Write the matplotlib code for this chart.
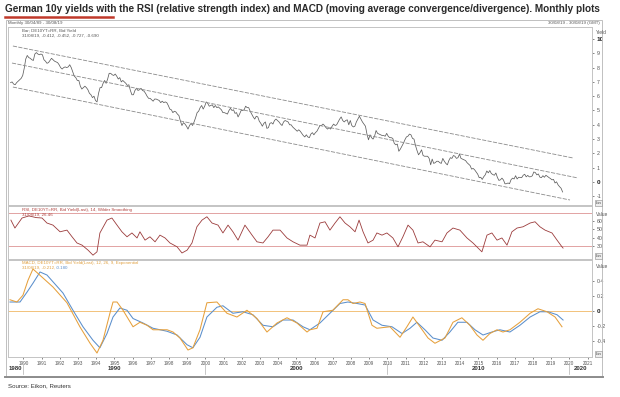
import matplotlib
matplotlib.use('Agg')
import matplotlib.pyplot as plt
import matplotlib.transforms as mtransforms
from matplotlib.lines import Line2D
from matplotlib.patches import Rectangle

plt.rcParams['font.family'] = ['Liberation Sans', 'DejaVu Sans']

# ---------------- data ----------------
title = ("German 10y yields with the RSI (relative strength index) and MACD "
         "(moving average convergence/divergence). Monthly plots")
source = "Source: Eikon, Reuters"

# Monthly German 10y yield, Apr 1989 .. Aug 2019
yield_first_year, yield_first_month = 1989, 4
yields = [
    6.95, 7.00, 6.85, 6.80, 6.95, 7.05, 7.15, 7.25, 7.45,
    7.95, 8.60, 8.85, 8.70, 8.65, 8.55, 8.50, 8.95, 9.05, 8.95, 8.90, 8.95,
    8.90, 8.55, 8.45, 8.30, 8.35, 8.50, 8.65, 8.55, 8.45, 8.40, 8.35, 8.20,
    8.00, 7.90, 8.00, 8.05, 8.00, 8.05, 8.20, 8.00, 7.70, 7.40, 7.30, 7.10,
    7.10, 6.70, 6.50, 6.60, 6.70, 6.60, 6.45, 6.20, 6.10, 5.90, 6.00, 5.70,
    5.60, 6.20, 6.60, 6.60, 6.90, 7.10, 6.90, 7.20, 7.60, 7.60, 7.50, 7.45,
    7.55, 7.40, 7.20, 7.30, 7.00, 7.10, 7.00, 6.90, 6.75, 6.80, 6.40, 6.10,
    6.10, 6.40, 6.55, 6.40, 6.45, 6.55, 6.40, 6.35, 6.20, 6.00, 5.85, 5.85,
    5.75, 5.65, 5.80, 5.80, 5.75, 5.70, 5.55, 5.65, 5.55, 5.60, 5.55, 5.35,
    5.10, 5.05, 4.85, 4.95, 4.90, 4.75, 4.65, 4.25, 3.95, 4.15, 4.05, 3.90,
    3.70, 3.95, 4.10, 3.95, 4.20, 4.50, 4.85, 4.95, 5.20, 5.35, 5.10, 5.30,
    5.60, 5.50, 5.30, 5.35, 5.40, 5.20, 5.35, 5.20, 5.25, 5.15, 5.05, 4.85,
    4.85, 4.80, 4.75, 5.00, 5.15, 5.00, 5.05, 4.80, 4.85, 4.55, 4.75, 5.00,
    5.00, 5.05, 5.30, 5.20, 5.20, 4.95, 4.75, 4.55, 4.40, 4.60, 4.55, 4.25,
    4.10, 3.90, 4.10, 4.20, 3.75, 3.80, 4.10, 4.15, 4.05, 4.30, 4.40, 4.30,
    4.20, 4.05, 3.95, 4.20, 4.30, 4.25, 4.20, 4.00, 4.00, 3.85, 3.75, 3.65,
    3.55, 3.65, 3.55, 3.40, 3.25, 3.15, 3.30, 3.15, 3.10, 3.35, 3.45, 3.30,
    3.45, 3.55, 3.75, 3.95, 3.95, 4.05, 3.95, 3.80, 3.70, 3.80, 3.70, 3.90,
    4.05, 3.95, 4.00, 4.20, 4.40, 4.55, 4.30, 4.20, 4.30, 4.35, 4.00, 4.30,
    3.95, 3.85, 3.90, 4.20, 4.40, 4.60, 4.40, 4.20, 4.05, 3.90, 3.35, 2.95,
    3.30, 3.10, 3.00, 3.20, 3.60, 3.40, 3.35, 3.30, 3.25, 3.25, 3.20, 3.40,
    3.20, 3.10, 3.10, 3.05, 2.70, 2.60, 2.65, 2.15, 2.30, 2.50, 2.70, 2.95,
    3.15, 3.20, 3.35, 3.30, 3.05, 3.00, 2.55, 2.20, 1.90, 2.05, 2.25, 1.85,
    1.80, 1.80, 1.80, 1.65, 1.20, 1.60, 1.30, 1.35, 1.45, 1.45, 1.35, 1.30,
    1.65, 1.45, 1.30, 1.20, 1.50, 1.70, 1.65, 1.85, 1.80, 1.65, 1.70, 1.95,
    1.65, 1.60, 1.55, 1.50, 1.35, 1.25, 1.15, 0.90, 0.95, 0.85, 0.70, 0.55,
    0.30, 0.33, 0.18, 0.37, 0.50, 0.77, 0.64, 0.80, 0.59, 0.52, 0.47, 0.63,
    0.32, 0.11, 0.15, 0.27, 0.14, -0.13, -0.12, -0.07, -0.12, 0.16, 0.27, 0.21,
    0.44, 0.21, 0.33, 0.32, 0.30, 0.47, 0.54, 0.36, 0.46, 0.36, 0.37, 0.43,
    0.70, 0.66, 0.50, 0.56, 0.34, 0.30, 0.44, 0.33, 0.47, 0.39, 0.31, 0.24,
    0.15, 0.18, -0.07, 0.01, -0.20, -0.33, -0.44, -0.70,
]

# trend channel (start / end dates and values)
channel_start_dates = [1989.42, 1989.37, 1989.42]
channel_start_vals = [9.51, 8.32, 6.64]
channel_end_dates = [2020.19, 2020.47, 2020.03]
channel_end_vals = [1.68, 0.28, -1.26]

rsi_dates = [1989.31, 1989.53, 1989.92, 1990.30, 1990.70, 1991.02, 1991.29, 1991.62,
             1992.01, 1992.39, 1992.67, 1992.94, 1993.22, 1993.55, 1993.82, 1994.04,
             1994.20, 1994.59, 1994.86, 1995.14, 1995.41, 1995.69, 1995.96, 1996.24,
             1996.40, 1996.68, 1996.95, 1997.23, 1997.50, 1997.78, 1998.05, 1998.44,
             1998.71, 1998.99, 1999.26, 1999.53, 1999.81, 2000.08, 2000.36, 2000.69,
             2000.96, 2001.24, 2001.51, 2001.79, 2002.17, 2002.56, 2002.83, 2003.16,
             2003.44, 2003.71, 2004.10, 2004.48, 2004.81, 2005.19, 2005.58, 2005.74,
             2006.02, 2006.29, 2006.57, 2006.84, 2007.12, 2007.39, 2007.67, 2007.94,
             2008.22, 2008.44, 2008.66, 2008.93, 2009.21, 2009.42, 2009.70, 2009.97,
             2010.30, 2010.58, 2010.85, 2011.13, 2011.40, 2011.68, 2011.95, 2012.34,
             2012.61, 2013.00, 2013.27, 2013.60, 2013.98, 2014.37, 2014.70, 2015.19,
             2015.47, 2015.74, 2016.02, 2016.29, 2016.57, 2016.84, 2017.12, 2017.45,
             2017.84, 2018.11, 2018.38, 2018.66, 2019.04, 2019.32, 2019.59, 2019.65]
rsi_vals = [61, 51.5, 63.5, 66, 64, 63.5, 57.5, 55,
            47, 49, 41, 33.6, 31, 25, 19, 23,
            45.6, 61, 63.5, 55, 47, 41, 45.6, 39.6,
            47, 37, 41, 35, 43, 39.6, 33.6, 29,
            21.6, 25, 33.6, 53, 61, 65, 57.5, 55,
            45.6, 55, 47, 37, 55, 43, 35, 33.6,
            41, 49, 49, 39.6, 35, 31, 31, 43,
            39.6, 57.5, 59, 49, 57.5, 65, 57.5, 53,
            47, 61, 47, 33.6, 37, 45.6, 43, 45.6,
            39.6, 29, 41, 55, 49, 33.6, 35, 29,
            37, 35, 45.6, 51.5, 49, 39.6, 33.6, 23,
            43, 45.6, 37, 39.6, 31, 47, 51.5, 53,
            57.5, 59, 53, 49, 45.6, 37, 29, 27.5]
rsi_levels = [70, 30]

macd_dates = [1989.26, 1989.64, 1989.97, 1990.25, 1990.52, 1990.80, 1991.62, 1992.39,
              1993.10, 1993.66, 1994.04, 1994.37, 1994.75, 1994.92, 1995.14, 1995.47,
              1996.02, 1996.40, 1996.79, 1997.12, 1997.89, 1998.22, 1998.60, 1999.04,
              1999.31, 1999.70, 2000.08, 2000.63, 2001.18, 2001.73, 2002.28, 2002.83,
              2003.38, 2003.93, 2004.48, 2005.03, 2005.58, 2005.74, 2006.13, 2006.46,
              2007.00, 2007.56, 2007.83, 2008.11, 2008.49, 2008.77, 2009.15, 2009.42,
              2010.14, 2010.69, 2011.07, 2011.40, 2011.79, 2012.23, 2012.61, 2013.16,
              2013.60, 2014.09, 2014.53, 2014.92, 2015.25, 2015.63, 2016.02, 2016.35,
              2016.73, 2017.28, 2017.84, 2018.27, 2018.77, 2019.21, 2019.59]
macd_vals = [0.15, 0.12, 0.21, 0.41, 0.56, 0.50, 0.32, 0.11,
             -0.21, -0.43, -0.56, -0.39, -0.03, 0.12, 0.12, 0.01,
             -0.21, -0.15, -0.19, -0.25, -0.25, -0.28, -0.36, -0.52,
             -0.49, -0.25, 0.11, 0.12, -0.03, -0.08, 0.01, -0.10,
             -0.28, -0.16, -0.09, -0.16, -0.28, -0.25, -0.23, -0.01,
             0.01, 0.15, 0.15, 0.10, 0.12, 0.10, -0.19, -0.23,
             -0.21, -0.35, -0.21, -0.08, -0.21, -0.36, -0.43, -0.36,
             -0.15, -0.09, -0.19, -0.32, -0.39, -0.30, -0.25, -0.28,
             -0.25, -0.15, -0.03, 0.03, -0.01, -0.08, -0.21]

signal_dates = [1989.26, 1989.81, 1990.19, 1990.52, 1990.91, 1991.29, 1991.62, 1992.17,
                1992.72, 1993.27, 1993.82, 1994.20, 1994.59, 1994.92, 1995.30, 1995.69,
                1996.02, 1996.57, 1997.12, 1997.89, 1998.44, 1998.99, 1999.31, 1999.70,
                2000.08, 2000.63, 2000.96, 2001.51, 2002.06, 2002.61, 2003.16, 2003.71,
                2004.26, 2004.81, 2005.36, 2005.74, 2006.29, 2006.84, 2007.39, 2007.83,
                2008.33, 2008.77, 2009.21, 2009.70, 2010.25, 2010.80, 2011.24, 2011.62,
                2012.06, 2012.50, 2013.00, 2013.43, 2013.87, 2014.37, 2014.81, 2015.25,
                2015.74, 2016.18, 2016.73, 2017.28, 2017.84, 2018.38, 2018.82, 2019.32,
                2019.65]
signal_vals = [0.12, 0.12, 0.25, 0.37, 0.52, 0.48, 0.39, 0.24,
               0.01, -0.21, -0.39, -0.49, -0.30, -0.08, 0.04, 0.01,
               -0.10, -0.16, -0.23, -0.27, -0.32, -0.45, -0.49, -0.35,
               -0.08, 0.05, 0.07, -0.03, -0.01, -0.05, -0.19, -0.21,
               -0.12, -0.12, -0.21, -0.25, -0.16, -0.03, 0.10, 0.12,
               0.10, 0.08, -0.12, -0.19, -0.21, -0.30, -0.23, -0.15,
               -0.25, -0.36, -0.39, -0.28, -0.15, -0.15, -0.25, -0.32,
               -0.28, -0.25, -0.28, -0.19, -0.08, -0.01, -0.01, -0.05,
               -0.12]

year_ticks = list(range(1990, 2022))
decade_starts = [1980, 1990, 2000, 2010, 2020]
yield_ticks = [-1, 0, 1, 2, 3, 4, 5, 6, 7, 8, 9, 10]
rsi_ticks = [30, 40, 50, 60]
macd_ticks = [-0.4, -0.2, 0, 0.2, 0.4]

# ---------------- layout ----------------
W, H = 620, 397
fig = plt.figure(figsize=(W / 100, H / 100), dpi=100)
fig.patch.set_facecolor('white')


def fx(x):
    return x / W


def fy(y):
    return 1 - y / H


def px_axes(x0, y0, x1, y1):
    return fig.add_axes([fx(x0), fy(y1), (x1 - x0) / W, (y1 - y0) / H])


XMIN, XMAX = 1989.15, 2021.24
SPINE = '#c4c4c4'
TICKC = '#555555'
LBL = 3.8

ax1 = px_axes(8, 27, 592, 205)
ax2 = px_axes(8, 206, 592, 259)
ax3 = px_axes(8, 260, 592, 357)

for ax in (ax1, ax2, ax3):
    ax.set_xlim(XMIN, XMAX)
    ax.set_facecolor('white')
    for s in ax.spines.values():
        s.set_color(SPINE)
        s.set_linewidth(0.7)
    ax.yaxis.tick_right()
    ax.tick_params(axis='y', labelsize=LBL, colors=TICKC, length=1.5, width=0.5, pad=2)
    ax.tick_params(axis='x', length=0)
    ax.set_xticks([])

# --- top panel: yield ---
ydates = [yield_first_year + (yield_first_month - 1 + i + 0.5) / 12 for i in range(len(yields))]
ax1.plot(ydates, yields, color='#5e5e5e', lw=0.55)
for d0, v0, d1, v1 in zip(channel_start_dates, channel_start_vals,
                          channel_end_dates, channel_end_vals):
    ax1.plot([d0, d1], [v0, v1], color='#8a8a8a', lw=0.6, dashes=(5, 1.6))
ax1.set_ylim(-1.61, 10.84)
ax1.set_yticks(yield_ticks)
ax1.set_yticklabels([str(t) for t in yield_ticks])
for lab in ax1.get_yticklabels():
    if lab.get_text() in ('10', '0'):
        lab.set_fontweight('bold')
        lab.set_fontsize(4.6)
        lab.set_color('#222222')

# --- RSI panel ---
for lv in rsi_levels:
    ax2.axhline(lv, color='#e2a3a3', lw=0.7)
ax2.plot(rsi_dates, rsi_vals, color='#9b3b3b', lw=0.6)
ax2.set_ylim(14.4, 77.9)
ax2.set_yticks(rsi_ticks)
ax2.set_yticklabels([str(t) for t in rsi_ticks])

# --- MACD panel ---
ax3.axhline(0, color='#f2c27a', lw=0.7)
ax3.plot(signal_dates, signal_vals, color='#5b8fcc', lw=0.75)
ax3.plot(macd_dates, macd_vals, color='#e6a03c', lw=0.75)
ax3.set_ylim(-0.613, 0.68)
ax3.set_yticks(macd_ticks)
ax3.set_yticklabels(['-0.4', '-0.2', '0', '0.2', '0.4'])
for lab in ax3.get_yticklabels():
    if lab.get_text() == '0':
        lab.set_fontweight('bold')
        lab.set_fontsize(4.6)
        lab.set_color('#222222')

# x axis (years) on the MACD panel
ax3.set_xticks(year_ticks)
ax3.set_xticklabels([str(y) for y in year_ticks])
ax3.tick_params(axis='x', labelsize=3.3, colors=TICKC, length=1.5, width=0.5, pad=1.5)

blend = mtransforms.blended_transform_factory(ax3.transData, fig.transFigure)
for d in decade_starts:
    lo = max(d, XMIN)
    hi = min(d + 10, XMAX)
    if hi <= lo:
        continue
    ax3.text((lo + hi) / 2, fy(368.5), str(d), transform=blend, ha='center', va='center',
             fontsize=4.3, fontweight='bold', color='#333333', clip_on=False)
    if XMIN < d < XMAX:
        ax3.add_line(Line2D([d, d], [fy(364), fy(374)], transform=blend,
                            color='#b0b0b0', lw=0.5, clip_on=False))

# axis captions on the right
fig.text(fx(596), fy(32), 'Yield', fontsize=3.5, color=TICKC, va='center')
fig.text(fx(596), fy(215), 'Value', fontsize=3.5, color=TICKC, va='center')
fig.text(fx(596), fy(267), 'Value', fontsize=3.5, color=TICKC, va='center')
for yy in (203, 256, 354):
    fig.text(fx(595.5), fy(yy), 'Lin', fontsize=3.2, color='#444444', va='center',
             bbox=dict(boxstyle='square,pad=0.15', fc='#eeeeee', ec='#8a8a8a', lw=0.4))

# in-panel legend texts
fig.text(fx(22), fy(31), 'Bar; DE10YT=RR, Bid Yield', fontsize=3.2, color='#555555', va='center')
fig.text(fx(22), fy(36), '31/08/19, -0.412, -0.452, -0.727, -0.690', fontsize=3.2,
         color='#555555', va='center')
fig.text(fx(22), fy(210), 'RSI, DE10YT=RR, Bid Yield(Last), 14, Wilder Smoothing',
         fontsize=3.2, color='#b0413e', va='center')
fig.text(fx(22), fy(215), '31/08/19, 26.46', fontsize=3.2, color='#b0413e', va='center')
fig.text(fx(22), fy(263), 'MACD, DE10YT=RR, Bid Yield(Last), 12, 26, 9, Exponential',
         fontsize=3.2, color='#e0a040', va='center')
fig.text(fx(22), fy(268), '31/08/19, -0.212,', fontsize=3.2, color='#e0a040', va='center')
fig.text(fx(56), fy(268), '-0.180', fontsize=3.2, color='#5b8fcc', va='center')

# header line
fig.text(fx(8), fy(23), 'Monthly 30/04/89 - 30/08/19', fontsize=3.2, color='#555555', va='center')
fig.text(fx(600), fy(23), '30/08/19 - 30/08/19 (GMT)', fontsize=3.2, color='#555555',
         va='center', ha='right')

# frame
fig.patches.append(Rectangle((fx(6), fy(377)), 596 / W, 357 / H, transform=fig.transFigure,
                             fill=False, ec='#c0c0c0', lw=0.7))
fig.add_artist(Line2D([fx(5), fx(603)], [fy(377), fy(377)], color='#8c8c8c', lw=1.4))

# title + underline
fig.text(fx(5), fy(9), title, fontsize=7.2, fontweight='bold', color='#2a2a2a', va='center')
fig.add_artist(Line2D([fx(5), fx(113)], [fy(16.5), fy(16.5)], color='#c0392b', lw=1.8))

fig.text(fx(8), fy(386), source, fontsize=4.4, color='#333333', va='center')

fig.savefig('out.png', dpi=100, facecolor='white')
